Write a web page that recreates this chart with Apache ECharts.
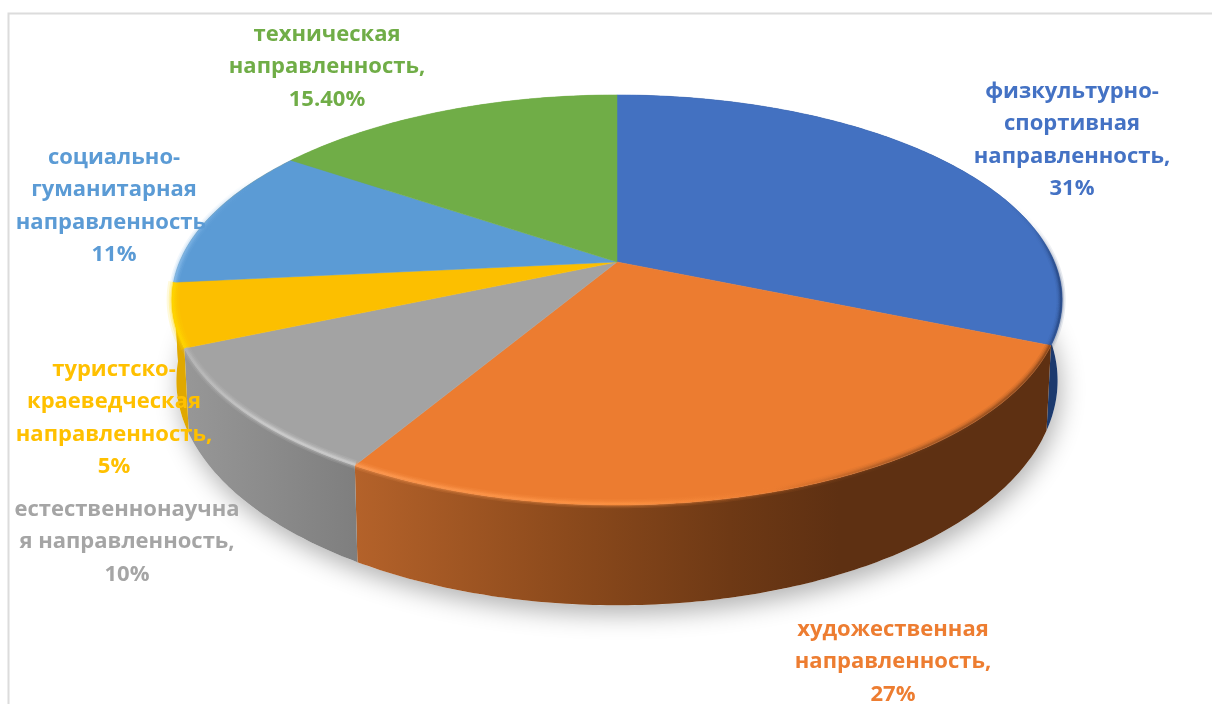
<!DOCTYPE html>
<html><head><meta charset="utf-8">
<style>html,body{margin:0;padding:0;background:#fff}#c{width:1212px;height:704px}</style>
<script src="https://cdn.jsdelivr.net/npm/echarts@6/dist/echarts.min.js"></script>
</head><body><div id="c"></div>
<script>
// ---- data ----
const categories = ['физкультурно-\nспортивная\nнаправленность','художественная\nнаправленность','естественнонаучна\nя направленность','туристско-\nкраеведческая\nнаправленность','социально-\nгуманитарная\nнаправленность','техническая\nнаправленность'];
const values = [31.4, 27, 10, 5, 11.2, 15.4];
const valueLabels = ['31%','27%','10%','5%','11%','15.40%'];

// ---- styles / layout ----
const colors = ['#4371C1','#EC7C30','#A3A3A3','#FCBF00','#5B9BD5','#70AD47'];
const labelColors = ['#4472C4','#ED7D31','#A5A5A5','#FFC000','#5B9BD5','#70AD47'];
const labelPos = [[1072,140],[893,662],[127,542],[114,418],[114,206],[327,67]];
const top_ = {a:437.4,b:198,y0:262}, bottom_ = {a:433,b:217,y0:339};
const cx = 617, persp = 0.185;
const sideStops = [
  [[0,'#1C3A6E'],[1,'#1C3A6E']],
  [[0,'#B4622A'],[0.35,'#8C4A1C'],[0.62,'#6E3915'],[0.8,'#5E3012'],[1,'#5E3012']],
  [[0,'#979797'],[1,'#7E7E7E']],
  [[0,'#E0A800'],[1,'#E0A800']],
  [[0,'#E0A800'],[1,'#E0A800']],
  [[0,'#70AD47'],[1,'#70AD47']]
];
const sideRange = [[1000,1065],[355,960],[185,360],[170,190],[170,190],[280,620]];
const rimStops = [
  [[0,'rgba(30,58,110,0)'],[0.55,'rgba(30,58,110,0.1)'],[1,'rgba(30,58,110,0.8)']],
  [[0,'#FF9C55'],[0.4,'#FF9443'],[0.6,'rgba(236,124,48,0.6)'],[0.78,'rgba(120,65,28,0.55)'],[1,'rgba(94,48,18,0.7)']],
  [[0,'#B8B8B8'],[0.5,'#D6D6D6'],[1,'#D2D2D2']],
  [[0,'#FFD800'],[1,'#FFD800']],
  [[0,'#8FC0EC'],[1,'rgba(91,155,213,0)']],
  [[0,'rgba(112,173,71,0)'],[1,'rgba(112,173,71,0)']]
];
const rimRange = [[1000,1062],[355,1050],[185,360],[170,190],[170,260],[280,620]];

// ---- geometry derived from the values ----
const total = values.reduce((s,v)=>s+v,0);
const cumul = []; values.reduce((s,v,i)=>{cumul[i]=s;return s+v;},0);
function pt(deg, lvl){
  const t = deg*Math.PI/180, u = Math.sin(t), v = -Math.cos(t), w = 1 - persp*v;
  return [cx + lvl.a*u/w, lvl.y0 + lvl.b*v/w];
}
function arc(d0,d1,lvl){
  const n = Math.max(2,Math.ceil((d1-d0)/0.75)), out=[];
  for(let i=0;i<=n;i++) out.push(pt(d0+(d1-d0)*i/n,lvl));
  return out;
}
function span(i, api){
  const d0 = cumul[i]/total*360;
  return [d0, d0 + api.value(0)/total*360];
}
function grad(range,stops){
  return {type:'linear',global:true,x:range[0],y:0,x2:range[1],y2:0,
    colorStops:stops.map(s=>({offset:s[0],color:s[1]}))};
}

function renderShadow(params){
  if(params.dataIndex!==0) return null;
  return {type:'polygon',shape:{points:arc(0,360,bottom_)},
    style:{fill:'#fff',shadowColor:'rgba(0,0,0,0.3)',shadowBlur:24,shadowOffsetX:3,shadowOffsetY:9}};
}
function renderSide(params,api){
  const i=params.dataIndex,[d0,d1]=span(i,api);
  const pts=arc(d0,d1,top_).concat(arc(d0,d1,bottom_).reverse());
  return {type:'polygon',shape:{points:pts},style:{fill:grad(sideRange[i],sideStops[i])}};
}
function renderTop(params,api){
  const i=params.dataIndex,[d0,d1]=span(i,api);
  const pts=[[cx,top_.y0]].concat(arc(d0,d1,top_));
  return {type:'polygon',shape:{points:pts},style:{fill:colors[i],stroke:colors[i],lineWidth:0.5}};
}
function renderRim(params,api){
  const i=params.dataIndex,[d0,d1]=span(i,api);
  const inset={a:top_.a-1,b:top_.b-1,y0:top_.y0};
  const pts=arc(d0,d1,inset);
  const c=grad(rimRange[i],rimStops[i]);
  const k=i===3?1.4:1;
  const line=(w,o)=>({type:'polyline',shape:{points:pts},style:{fill:null,stroke:c,lineWidth:w*k,opacity:o}});
  return {type:'group',children:[line(9,0.14),line(6,0.22),line(3.5,0.35),line(1.5,0.5)]};
}
function renderLabel(params){
  const i=params.dataIndex;
  return {type:'text',x:labelPos[i][0],y:labelPos[i][1],
    style:{text:categories[i]+',\n'+valueLabels[i],fill:labelColors[i],
      font:'bold 22px "Open Sans"',lineHeight:32.5,align:'center',verticalAlign:'middle'}};
}
const data = values.map(v=>[v]);
const base = {type:'custom',coordinateSystem:'none',data,silent:true,animation:false,clip:false};

const chart = echarts.init(document.getElementById('c'),null,{renderer:'canvas'});
chart.setOption({
  backgroundColor:'#fff',animation:false,
  graphic:[{type:'polyline',silent:true,shape:{points:[[8.5,704],[8.5,13.5],[1212,13.5]]},
    style:{fill:null,stroke:'#DCDCDC',lineWidth:2}}],
  series:[
    {...base,z:1,renderItem:renderShadow},
    {...base,z:2,renderItem:renderSide},
    {...base,z:3,renderItem:renderTop},
    {...base,z:4,renderItem:renderRim},
    {...base,z:5,renderItem:renderLabel}
  ]
});
</script></body></html>
